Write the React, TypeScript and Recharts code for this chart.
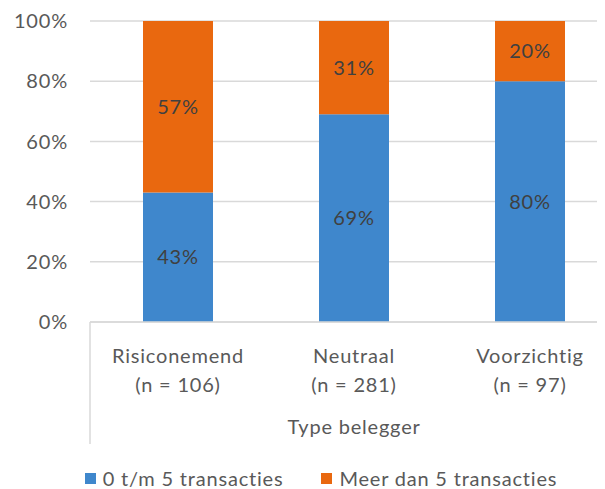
import React from 'react';
import { BarChart, Bar, XAxis, YAxis, CartesianGrid, Legend, LabelList } from 'recharts';

const categories = ['Risiconemend', 'Neutraal', 'Voorzichtig'];
const sampleSizes = ['(n = 106)', '(n = 281)', '(n = 97)'];
const lowTrades = [43, 69, 80];
const highTrades = [57, 31, 20];
const yTicks = [0, 20, 40, 60, 80, 100];
const seriesNames = ['0 t/m 5 transacties', 'Meer dan 5 transacties'];
const axisTitle = 'Type belegger';

const BLUE = '#3F87CC';
const ORANGE = '#E9680F';
const FONT = 'Lato, "Open Sans", sans-serif';
const FS = 20;
const LS = 0.8;

const data = categories.map((c, i) => ({
  name: c,
  n: sampleSizes[i],
  low: lowTrades[i],
  high: highTrades[i],
}));

const CategoryTick = (props: any) => {
  const { x, y, payload, index } = props;
  const d = data[index] || data.find((r) => r.name === payload.value);
  const half = payload && typeof payload.offset === 'number' && payload.offset > 0 ? payload.offset : 88;
  return (
    <g>
      {index === 0 && (
        <line x1={x - half} y1={y} x2={x - half} y2={y + 122} stroke="#D9D9D9" strokeWidth={1.5} />
      )}
      <text x={x} y={y + 33} textAnchor="middle" dominantBaseline="central" fill="#595959" fontSize={FS} letterSpacing={LS} fontFamily={FONT}>
        {payload.value}
      </text>
      <text x={x} y={y + 62} textAnchor="middle" dominantBaseline="central" fill="#595959" fontSize={FS} letterSpacing={LS} fontFamily={FONT}>
        {d ? d.n : ''}
      </text>
    </g>
  );
};

const LegendContent = () => (
  <div style={{ display: 'flex', justifyContent: 'center', alignItems: 'center', paddingLeft: 16, height: 22, fontFamily: FONT, fontSize: FS, letterSpacing: LS, color: '#595959' }}>
    {seriesNames.map((s, i) => (
      <div key={s} style={{ display: 'flex', alignItems: 'center', marginRight: i === 0 ? 38 : 0 }}>
        <span style={{ display: 'inline-block', width: 11, height: 11, background: i === 0 ? BLUE : ORANGE, marginRight: 7 }} />
        <span>{s}</span>
      </div>
    ))}
  </div>
);

export default function App() {
  return (
    <div style={{ width: 597, height: 481, overflow: 'hidden' }}>
      <BarChart width={620} height={481} data={data} margin={{ top: 13, right: 10, left: 0, bottom: 0 }} barSize={70}>
        <CartesianGrid vertical={false} stroke="#D9D9D9" strokeWidth={1.5} />
        <XAxis
          dataKey="name"
          height={145}
          tickLine={false}
          tickSize={0}
          tickMargin={0}
          axisLine={{ stroke: '#D9D9D9', strokeWidth: 1.5 }}
          tick={<CategoryTick />}
          interval={0}
          label={{ value: axisTitle, position: 'insideBottom', offset: 33, fill: '#595959', fontSize: FS, letterSpacing: LS, fontFamily: FONT }}
        />
        <YAxis
          width={82}
          domain={[0, 100]}
          ticks={yTicks}
          tickFormatter={(v: number) => `${v}%`}
          axisLine={false}
          tickLine={false}
          tickSize={0}
          tickMargin={22}
          tick={{ fill: '#595959', fontSize: FS, letterSpacing: LS, fontFamily: FONT }}
        />
        <Legend verticalAlign="bottom" height={22} content={<LegendContent />} />
        <Bar dataKey="low" stackId="a" fill={BLUE} isAnimationActive={false}>
          <LabelList dataKey="low" position="center" formatter={(v: any) => `${v}%`} fill="#404040" fontSize={FS} letterSpacing={LS} fontFamily={FONT} />
        </Bar>
        <Bar dataKey="high" stackId="a" fill={ORANGE} isAnimationActive={false}>
          <LabelList dataKey="high" position="center" formatter={(v: any) => `${v}%`} fill="#404040" fontSize={FS} letterSpacing={LS} fontFamily={FONT} />
        </Bar>
      </BarChart>
    </div>
  );
}
